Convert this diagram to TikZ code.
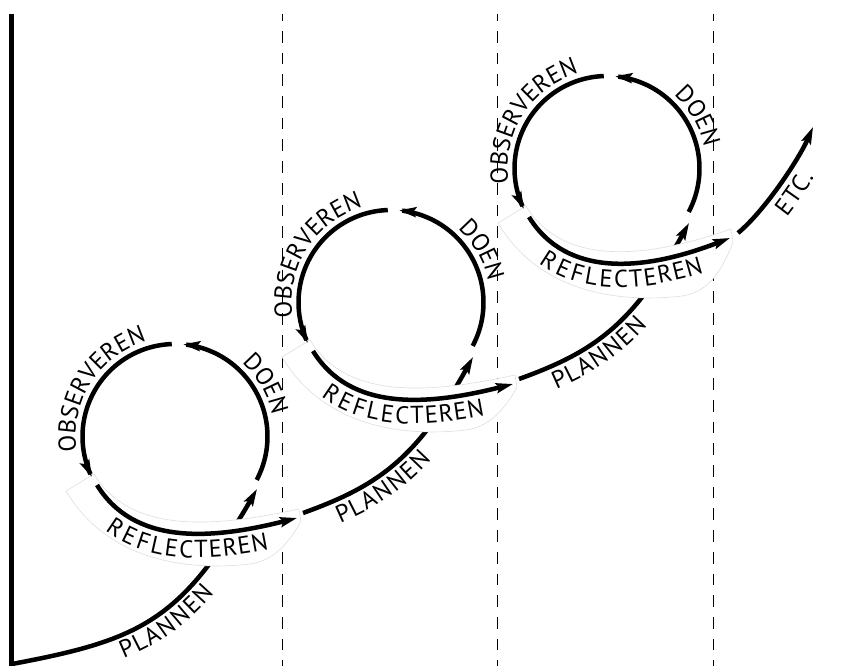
\documentclass[tikz,border=0pt]{standalone}
\usepackage{fontspec}
\setmainfont{PT Sans}
\usetikzlibrary{arrows.meta,decorations.text}
\newcommand\lblfont{\fontsize{24.5}{24.5}\selectfont}
% one observe / reflect / do cycle, in the coordinates of the first cycle
% #1,#2 end of the REFLECTEREN arrow; #3,#4 right end of the white band
\newcommand\drawloop[4]{%
  \filldraw[band] (94,474) .. controls (129,532) and (208,529) .. (299,#3)
     -- (301,#4) .. controls (288,545) and (272,561) .. (250,564)
     .. controls (180,572) and (105,557) .. (66,491) -- cycle;
  % OBSERVEREN
  \draw[ln,arr] plot[domain=0:1,samples=60]
     ({175+92.5*cos(268-114*\x)},{436.5+92.5*sin(268-114*\x)});
  \path[lbl=OBSERVEREN] plot[domain=0:1,samples=80]
     ({175+99.5*cos(150+125*\x)},{436.5+99.5*sin(150+125*\x)});
  % DOEN
  \draw[ln,arr] plot[domain=0:1,samples=60]
     ({175+92.5*cos(28-113*\x)},{436.5+92.5*sin(28-113*\x)});
  \path[lbl=DOEN] plot[domain=0:1,samples=60]
     ({175+99.5*cos(-75+90*\x)},{436.5+99.5*sin(-75+90*\x)});
  % REFLECTEREN
  \draw[ln,arr] (97,485) .. controls (134,545) and (210,540) .. (#1,#2);
  \path[lbl=REFLECTEREN, decoration={raise=-24.5pt}]
     (97,485) .. controls (134,545) and (210,540) .. (#1,#2);
}
\begin{document}
\begin{tikzpicture}[x=1pt,y=-1pt,
  ln/.style={line width=4.5pt},
  arr/.style={-{Stealth[length=17pt,width=10pt,inset=3pt]}},
  band/.style={fill=white, draw=black!13, line width=0.6pt},
  dsh/.style={line width=1.5pt, dash pattern=on 11.7pt off 10pt, dash phase=4.7pt},
  lbl/.style={decorate, decoration={text along path, text align=center,
     text={|\lblfont|#1}}},
]
\useasboundingbox (0,0) rectangle (859,666);

% axis
\draw[line width=5pt] (11.5,14) -- (11.5,666);

% dashed separators
\foreach \xx in {282.5,497.5,713.5} \draw[dsh] (\xx,14) -- (\xx,666);

% PLANNEN 1
\draw[ln,arr] (12,664) .. controls (140,640) and (181,621) .. (257,489);
\path[lbl=PLANNEN, decoration={raise=-23pt, text align={left, left indent=106pt}}]
   (12,664) .. controls (140,640) and (181,621) .. (257,489);

% PLANNEN 2 and 3
\foreach \k in {0,1}{
  \begin{scope}[shift={(216*\k,-134*\k)}]
    \draw[ln,arr] (303,513) .. controls (378,486) and (416.5,459) .. (473,357);
    \path[lbl=PLANNEN, decoration={raise=-23pt, text align={left, left indent=30pt}}]
       (303,513) .. controls (378,486) and (416.5,459) .. (473,357);
  \end{scope}
}

% ETC.
\draw[ln,arr] (738,233) .. controls (765,210.5) and (799,159) .. (813,127);
\path[lbl=ETC., decoration={raise=-25pt}]
   (738,233) .. controls (765,210.5) and (799,159) .. (813,127);

% the three cycles
\drawloop{297}{518}{509}{521}
\begin{scope}[shift={(216,-134)}]
  \drawloop{297}{518}{509}{521}
\end{scope}
\begin{scope}[shift={(432,-268)}]
  \drawloop{298}{506}{497}{510}
\end{scope}
\end{tikzpicture}
\end{document}
